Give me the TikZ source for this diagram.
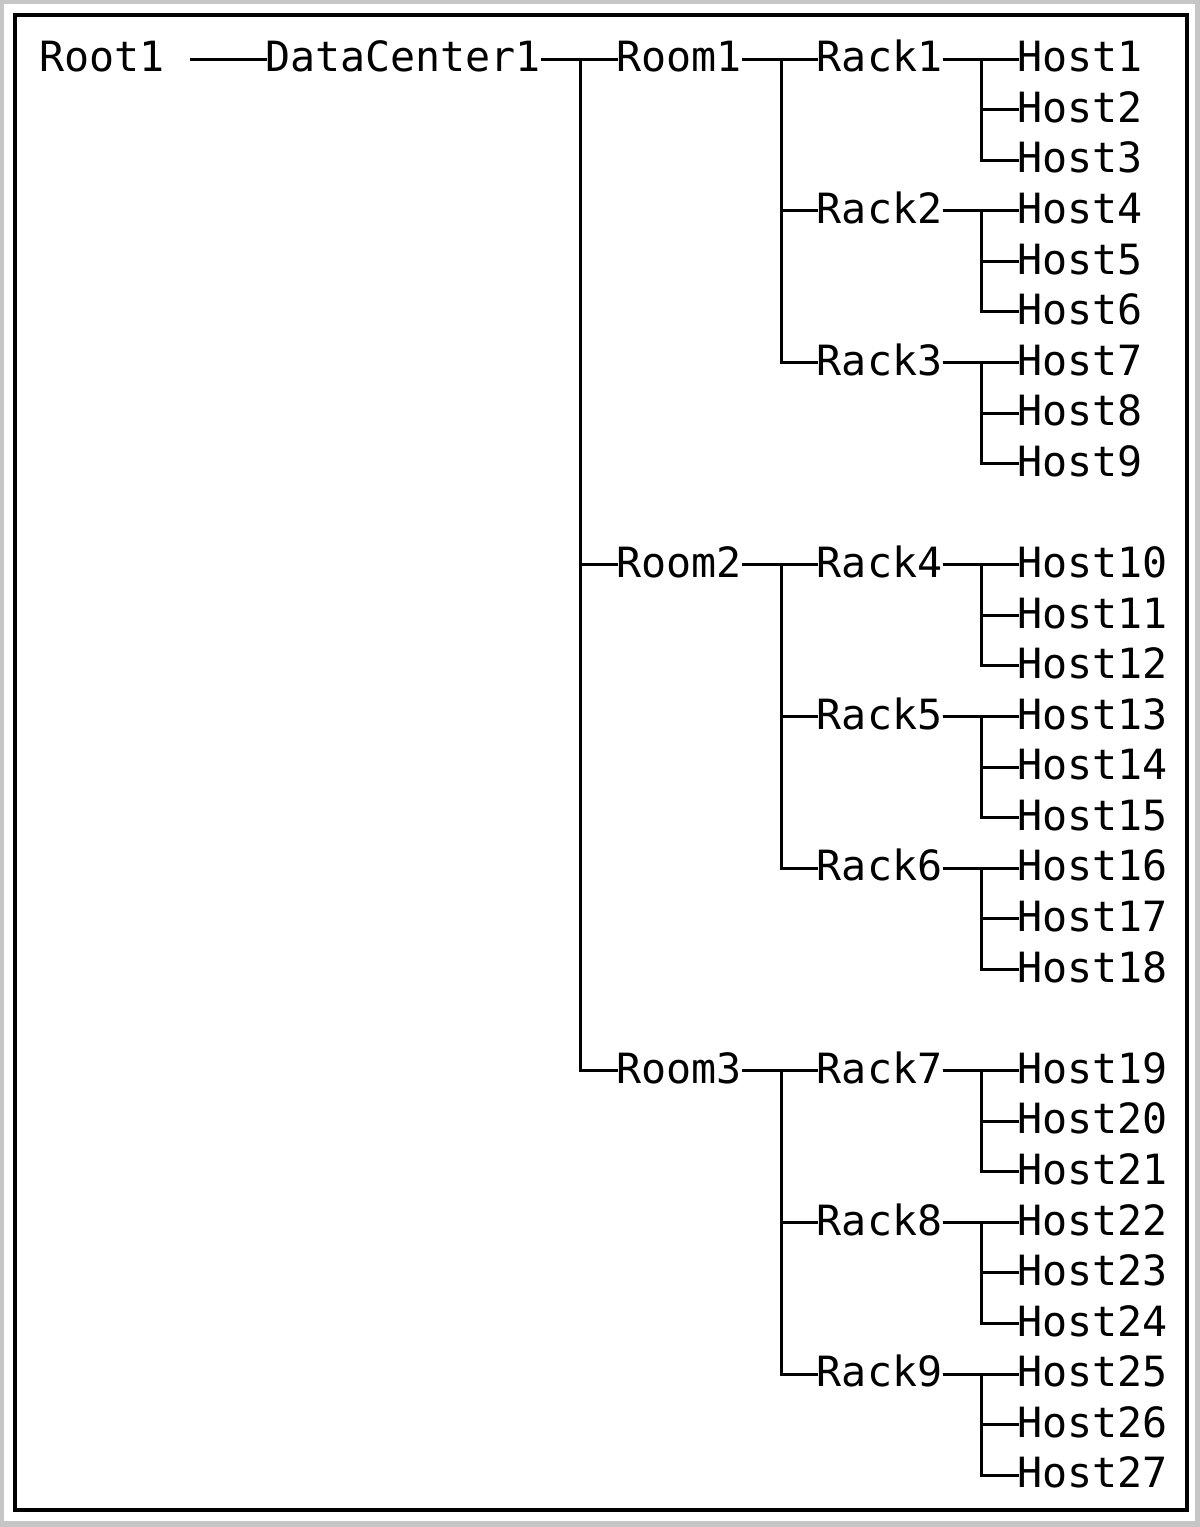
\documentclass[tikz,border=0pt]{standalone}
\usepackage{fontspec}
\newfontfamily\treefont{DejaVu Sans Mono}
\definecolor{framegray}{HTML}{C6C6C6}
\tikzset{
  lbl/.style={anchor=base west, inner sep=0pt, text height=15.2pt, text depth=2.5pt,
              font=\treefont\fontsize{20.83}{25}\selectfont, text=black},
  link/.style={draw=black, line width=1.5pt, shorten >=-1pt},
}
\begin{document}
\begin{tikzpicture}[x=0.5pt, y=-0.5pt]
\def\xo{39}\def\cw{25.08}\def\yo{71.7}\def\rh{50.58}
% frames
\fill[framegray] (0,0) rectangle (1200,1527);
\fill[white] (4,4) rectangle (1195,1521);
\useasboundingbox (0,0) rectangle (1200,1527);
\draw[black, line width=2pt] (15,15) rectangle (1187,1510);
% nodes
\node[lbl] (root) at ({\xo},{\yo}) {Root1};
\node[lbl] (dc) at ({\xo+9*\cw},{\yo}) {DataCenter1};
\foreach \m in {1,2,3} {
  \pgfmathsetmacro\r{10*(\m-1)}
  \node[lbl] (room\m) at ({\xo+23*\cw},{\yo+\r*\rh}) {Room\m};
  \foreach \j in {0,1,2} {
    \pgfmathtruncatemacro\k{3*(\m-1)+\j+1}
    \pgfmathsetmacro\rk{\r+3*\j}
    \node[lbl] (rack\k) at ({\xo+31*\cw},{\yo+\rk*\rh}) {Rack\k};
    \foreach \i in {0,1,2} {
      \pgfmathtruncatemacro\h{3*(\k-1)+\i+1}
      \pgfmathsetmacro\rr{\rk+\i}
      \node[lbl] (host\h) at ({\xo+39*\cw},{\yo+\rr*\rh}) {Host\h};
    }
  }
}
% connectors
\coordinate (rd) at ([xshift=12.54pt]root.east);
\draw[link] (rd) -- (dc.west);
\foreach \m in {1,2,3} {
  \draw[link] (dc.east) -- ([xshift=19.5pt]dc.east) |- (room\m.west);
  \foreach \j in {0,1,2} {
    \pgfmathtruncatemacro\k{3*(\m-1)+\j+1}
    \draw[link] (room\m.east) -- ([xshift=19.5pt]room\m.east) |- (rack\k.west);
    \foreach \i in {0,1,2} {
      \pgfmathtruncatemacro\h{3*(\k-1)+\i+1}
      \draw[link] (rack\k.east) -- ([xshift=19.5pt]rack\k.east) |- (host\h.west);
    }
  }
}
\end{tikzpicture}
\end{document}
